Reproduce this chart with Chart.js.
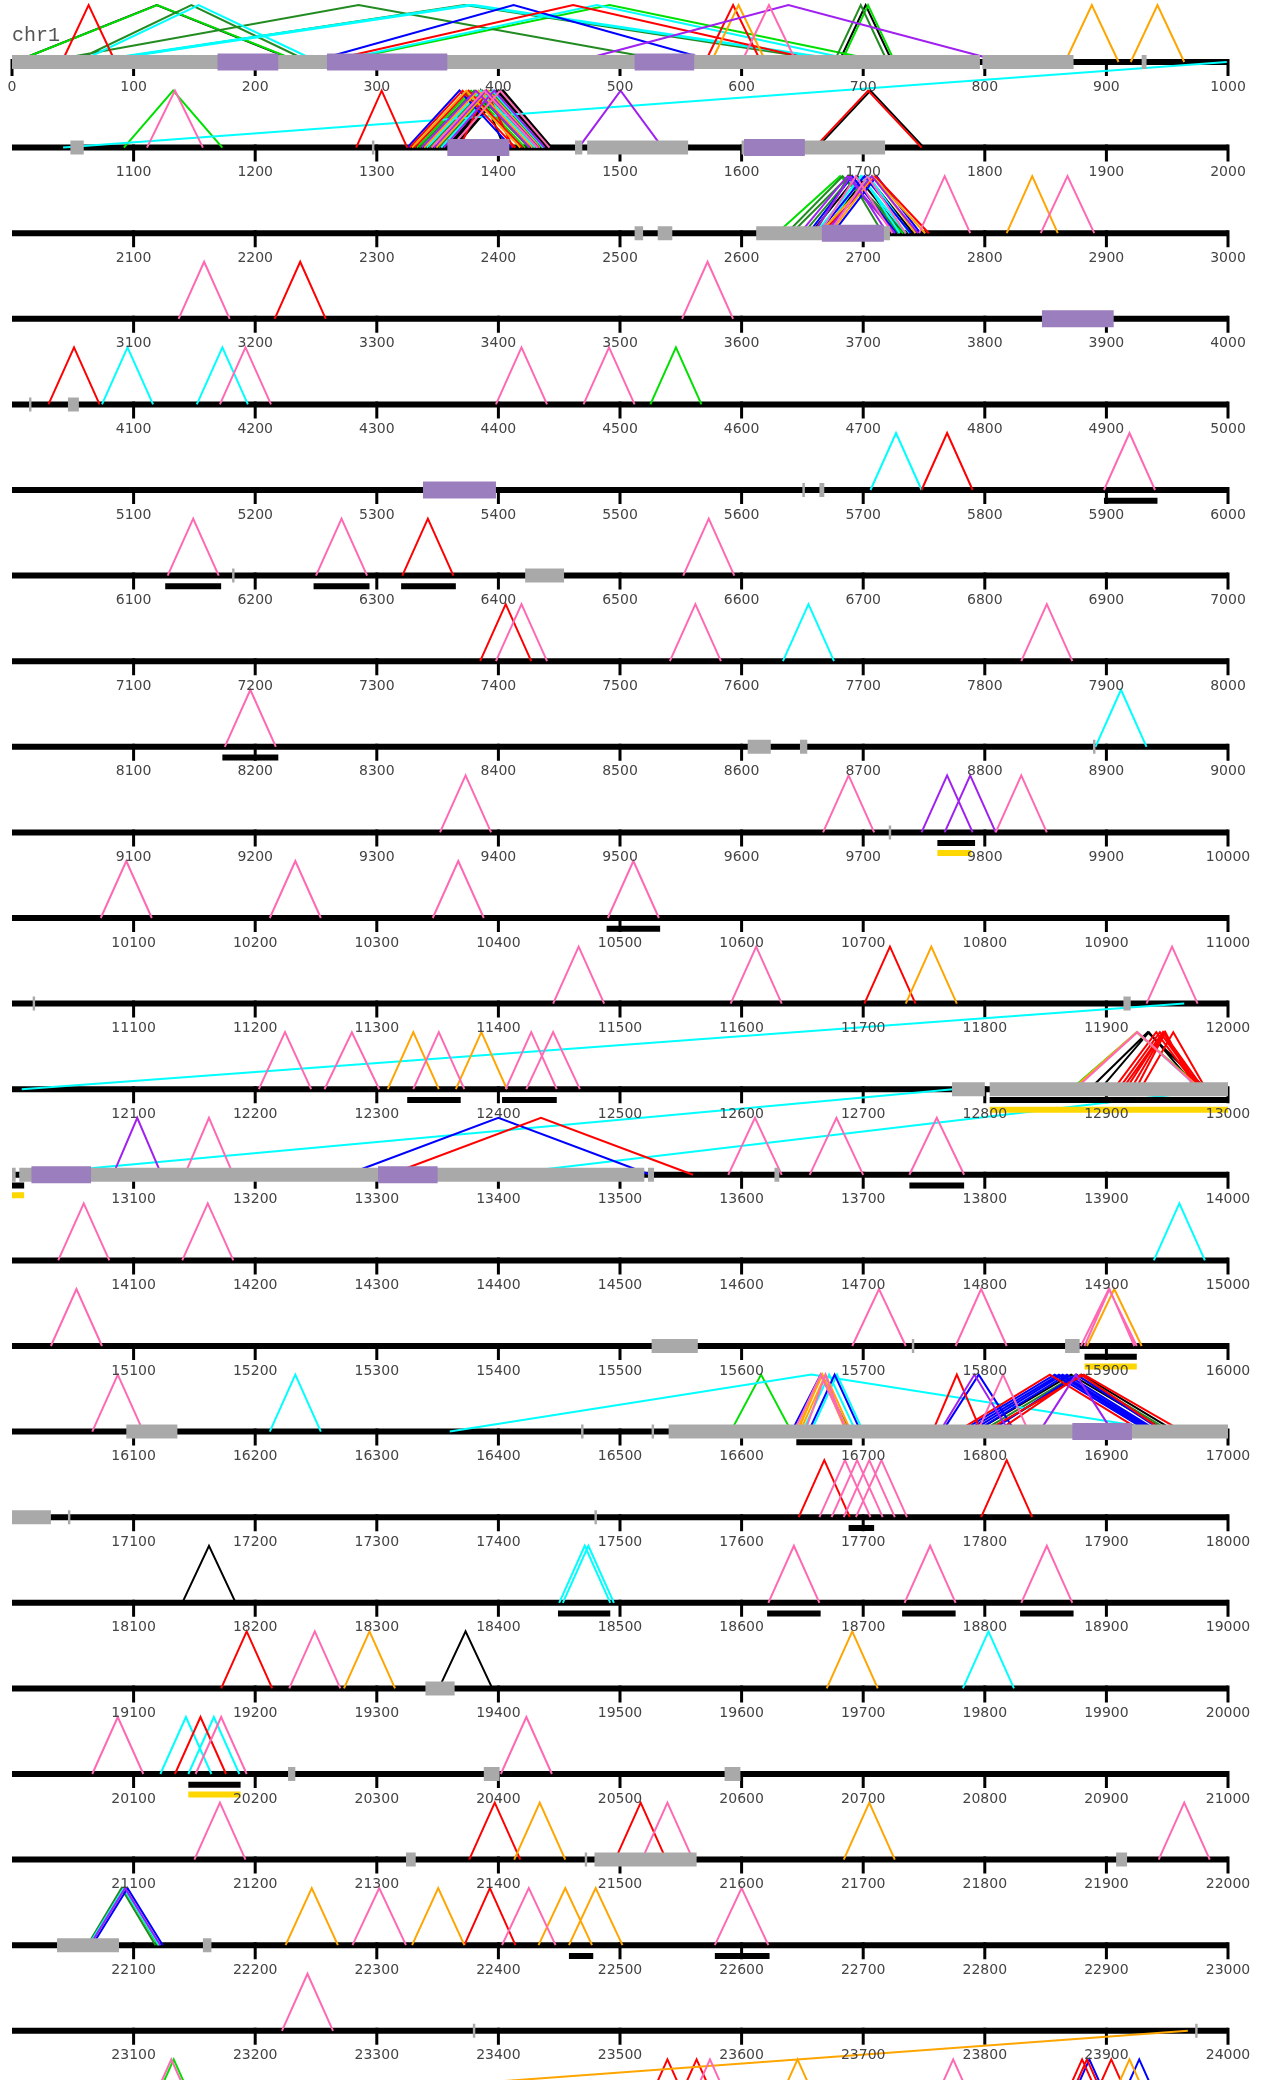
<!DOCTYPE html>
<html>
<head>
<meta charset="utf-8">
<title>chr1</title>
<script src="https://cdn.jsdelivr.net/npm/chart.js@4.4.0/dist/chart.umd.min.js"></script>
<style>
    html, body { margin: 0; padding: 0; background: #fff; }
    #chrChart { display: block; }
</style>
</head>
<body>
<canvas id="chrChart" width="1265" height="2080"></canvas>
<script>
// ============================================================================
// DATA (positions on chr1, one row = 1000)
// ============================================================================

const chromName = 'chr1';
const rowStarts = [0, 1000, 2000, 3000, 4000, 5000, 6000, 7000, 8000, 9000, 10000, 11000,
    12000, 13000, 14000, 15000, 16000, 17000, 18000, 19000, 20000, 21000, 22000, 23000];
const tickOffsets = [0, 100, 200, 300, 400, 500, 600, 700, 800, 900, 1000];

const redArcs = [
    [41, 85], [570, 616], [255, 668],
    [1283, 1325], [1327, 1414], [1331, 1420], [1368, 1412], [1660, 1748],
    [2666, 2754], [3216, 3258], [4030, 4072], [5748, 5790], [6321, 6363], [7385, 7427],
    [11701, 11743],
    [12906, 12976], [12910, 12978], [12913, 12980], [12916, 12977], [12920, 12975], [12924, 12973], [12928, 12982],
    [13310, 13560],
    [16757, 16797], [16777, 16930], [16800, 16963], [16810, 16948],
    [17647, 17689], [17797, 17839], [19172, 19214], [20134, 20176],
    [21376, 21418], [21496, 21538], [22372, 22414],
    [24518, 24560], [24542, 24584], [24859, 24901], [24863, 24905], [24883, 24925]
];
const orangeArcs = [
    [575, 620], [866, 910], [920, 964],
    [1329, 1418], [1339, 1428], [1349, 1434],
    [2664, 2751], [2673, 2743], [2818, 2860],
    [11735, 11777], [12309, 12351], [12365, 12407], [12872, 12978],
    [15884, 15929], [16645, 16688], [16648, 16690], [16646, 16686],
    [19273, 19315], [19670, 19712], [21413, 21455], [21684, 21726],
    [22225, 22268], [22329, 22372], [22433, 22477], [22458, 22502],
    [23967, 24009], [24625, 24667], [24898, 24940]
];
const pinkArcs = [
    [600, 645],
    [1111, 1157], [1345, 1432], [1361, 1442],
    [2664, 2724], [2672, 2735], [2746, 2788], [2846, 2890],
    [3137, 3179], [3551, 3593],
    [4171, 4213], [4398, 4440], [4470, 4512],
    [5898, 5940], [6128, 6170], [6250, 6292], [6552, 6594],
    [7398, 7440], [7541, 7583], [7830, 7872], [8175, 8217],
    [9352, 9394], [9667, 9709], [9809, 9851],
    [10073, 10115], [10212, 10254], [10346, 10388], [10490, 10532],
    [11445, 11487], [11591, 11633], [11933, 11975],
    [12203, 12246], [12257, 12302], [12330, 12372], [12406, 12448], [12423, 12467], [12874, 12977],
    [13142, 13182], [13589, 13633], [13656, 13700], [13738, 13783],
    [14038, 14080], [14140, 14182],
    [15032, 15074], [15691, 15735], [15776, 15818], [15879, 15925], [15882, 15923],
    [16066, 16108], [16643, 16687], [16652, 16686], [16794, 16836],
    [17664, 17706], [17674, 17716], [17684, 17726], [17694, 17736],
    [18622, 18664], [18734, 18776], [18830, 18872],
    [19228, 19270], [20066, 20108], [20151, 20193], [20402, 20444],
    [21150, 21192], [21518, 21560], [21943, 21985],
    [22280, 22324], [22403, 22447], [22578, 22622], [23222, 23264],
    [24110, 24152], [24553, 24595], [24753, 24795]
];
const cyanArcs = [
    [55, 252], [60, 690], [66, 694], [262, 700],
    [999, 1042],
    [1341, 1430], [1353, 1437],
    [2661, 2735], [2668, 2730], [2671, 2738],
    [4074, 4116], [4152, 4194], [5706, 5748], [7634, 7676], [8891, 8933],
    [11964, 12008], [12873, 12977], [12774, 13006], [12993, 13400],
    [14939, 14981], [16212, 16254], [16360, 16955], [16650, 16694], [16657, 16700],
    [18450, 18492], [18453, 18495], [19782, 19824], [20122, 20164], [20145, 20187],
    [22063, 22121]
];
const greenArcs = [
    [2, 237], [265, 718], [682, 726],
    [1092, 1173], [1333, 1422], [2629, 2733], [4525, 4567],
    [12871, 12979], [16591, 16641], [22064, 22120], [24112, 24154]
];
const darkGreenArcs = [
    [25, 545], [64, 680], [50, 245], [676, 720],
    [1335, 1425], [1343, 1431], [1351, 1436],
    [2637, 2729], [2641, 2735], [2651, 2730], [2660, 2716],
    [16797, 16953], [22062, 22118]
];
const blueArcs = [
    [245, 580], [1325, 1411],
    [2655, 2727], [2663, 2739], [2675, 2747],
    [13275, 13525],
    [16641, 16689], [16655, 16698], [16765, 16825], [16780, 16935], [16784, 16938],
    [16788, 16940], [16792, 16943], [16804, 16947],
    [22066, 22124], [24865, 24907], [24906, 24948]
];
const purpleArcs = [
    [462, 815],
    [1466, 1535], [1337, 1426], [1347, 1433], [1355, 1438],
    [2648, 2726], [2659, 2720], [2669, 2745],
    [9748, 9790], [9767, 9809], [13083, 13123],
    [16763, 16820], [16845, 16905], [22064, 22122]
];
const blackArcs = [
    [2, 236], [680, 724],
    [1357, 1440], [1359, 1441], [1363, 1443], [1364, 1444], [1366, 1405], [1662, 1750],
    [2657, 2733], [2666, 2741],
    [12886, 12982], [12895, 12975],
    [16792, 16950], [16802, 16957],
    [18140, 18184], [19351, 19395]
];

const grayBoxes = [
    [0, 796], [798, 873], [929, 933],
    [1048, 1059], [1296, 1298], [1463, 1469], [1473, 1556], [1600, 1718],
    [2512, 2519], [2531, 2543], [2612, 2722],
    [4014, 4016], [4046, 4055], [5650, 5652], [5664, 5668], [6181, 6183], [6422, 6454],
    [8605, 8624], [8648, 8654], [8889, 8891], [9721, 9723],
    [11017, 11019], [11914, 11920], [12773, 12800], [12804, 13000],
    [13000, 13003], [13006, 13520], [13523, 13528], [13627, 13631],
    [15526, 15564], [15740, 15742], [15866, 15878],
    [16094, 16136], [16468, 16470], [16526, 16528], [16540, 17000],
    [17000, 17032], [17046, 17048], [17479, 17481], [19340, 19364],
    [20227, 20233], [20388, 20401], [20586, 20599],
    [21324, 21332], [21471, 21473], [21479, 21563], [21908, 21917],
    [22037, 22088], [22157, 22164], [23379, 23381], [23973, 23975]
];
const purpleBoxes = [
    [169, 219], [259, 358], [512, 561], [1358, 1409], [1602, 1652], [2666, 2717],
    [3847, 3906], [5338, 5398], [13016, 13065], [13301, 13350], [16872, 16921]
];
const blackBars = [
    [5898, 5942], [6126, 6172], [6248, 6294], [6320, 6365], [8173, 8219], [9761, 9792],
    [10489, 10533], [12325, 12369], [12403, 12448], [12804, 13000], [13000, 13010],
    [13738, 13783], [15882, 15925], [16645, 16691], [17688, 17709],
    [18449, 18492], [18621, 18665], [18732, 18776], [18829, 18873],
    [20145, 20188], [22458, 22478], [22578, 22623]
];
const yellowBars = [
    [9761, 9789], [12804, 13000], [13000, 13010], [15882, 15925], [20145, 20188]
];

// ============================================================================
// LAYOUT
// ============================================================================

const ROW_SIZE = 1000;
const FIRST_BASE = 62;
const ROW_GAP = 85.6;
const ARC_HEIGHT = 57;

function baseY(row) {
    return FIRST_BASE + row * ROW_GAP;
}

function rowOf(pos, isEnd) {
    return isEnd ? Math.ceil(pos / ROW_SIZE) - 1 : Math.floor(pos / ROW_SIZE);
}

const GAP = { x: null, y: null };

function arcPoints(list) {
    const pts = [];
    list.forEach(([s, e]) => {
        const rs = rowOf(s, false);
        const re = rowOf(e, true);
        const xs = s - rs * ROW_SIZE;
        const xe = e - re * ROW_SIZE;
        if (rs === re) {
            const b = baseY(rs);
            pts.push({ x: xs, y: b }, { x: (xs + xe) / 2, y: b - ARC_HEIGHT }, { x: xe, y: b });
        } else {
            // link wrapping onto the next row: straight line
            pts.push({ x: xs, y: baseY(rs) }, { x: xe, y: baseY(re) });
        }
        pts.push(GAP);
    });
    return pts;
}

function spanPoints(list, dy) {
    const pts = [];
    list.forEach(([s, e]) => {
        const r = rowOf(s, false);
        const y = baseY(r) + dy;
        pts.push({ x: s - r * ROW_SIZE, y: y }, { x: e - r * ROW_SIZE, y: y }, GAP);
    });
    return pts;
}

function axisPoints() {
    const pts = [];
    rowStarts.forEach((start, r) => {
        pts.push({ x: 0, y: baseY(r) }, { x: ROW_SIZE, y: baseY(r) }, GAP);
    });
    return pts;
}

function tickPoints() {
    const pts = [];
    rowStarts.forEach((start, r) => {
        tickOffsets.forEach(off => {
            if (off === 0 && r > 0) return;
            pts.push({ x: off, y: baseY(r) - 3 }, { x: off, y: baseY(r) + 14 }, GAP);
        });
    });
    return pts;
}

function lineSet(data, color, width, order) {
    return {
        data: data,
        showLine: true,
        borderColor: color,
        backgroundColor: color,
        borderWidth: width,
        pointRadius: 0,
        pointHoverRadius: 0,
        tension: 0,
        spanGaps: false,
        borderCapStyle: 'butt',
        borderJoinStyle: 'miter',
        clip: false,
        order: order
    };
}

// ============================================================================
// TEXT PLUGIN (chromosome name + tick labels)
// ============================================================================

const labelPlugin = {
    id: 'rowLabels',
    beforeDatasetsDraw(chart) {
        const { ctx, scales } = chart;
        ctx.save();
        ctx.font = '20px "Liberation Mono", "DejaVu Sans Mono", monospace';
        ctx.fillStyle = '#555';
        ctx.textAlign = 'left';
        ctx.textBaseline = 'middle';
        ctx.fillText(chromName, scales.x.getPixelForValue(0), scales.y.getPixelForValue(36));
        ctx.restore();
    },
    afterDatasetsDraw(chart) {
        const { ctx, scales } = chart;
        ctx.save();
        ctx.font = '14px "DejaVu Sans", sans-serif';
        ctx.fillStyle = '#444';
        ctx.textAlign = 'center';
        ctx.textBaseline = 'middle';
        rowStarts.forEach((start, r) => {
            tickOffsets.forEach(off => {
                if (off === 0 && r > 0) return;
                ctx.fillText(String(start + off), scales.x.getPixelForValue(off),
                    scales.y.getPixelForValue(baseY(r) + 25));
            });
        });
        ctx.restore();
    }
};

// ============================================================================
// CHART
// ============================================================================

const datasets = [
    lineSet(axisPoints(), '#000', 6, 20),
    lineSet(tickPoints(), '#000', 3, 19),
    lineSet(arcPoints(cyanArcs), '#00ffff', 2, 9),
    lineSet(arcPoints(darkGreenArcs), '#228b22', 2, 10),
    lineSet(arcPoints(greenArcs), '#00e000', 2, 11),
    lineSet(arcPoints(blueArcs), '#0000ff', 2, 8),
    lineSet(arcPoints(redArcs), '#ff0000', 2, 7),
    lineSet(arcPoints(orangeArcs), '#ffa500', 2, 6),
    lineSet(arcPoints(purpleArcs), '#a020f0', 2, 5),
    lineSet(arcPoints(pinkArcs), '#ff69b4', 2, 4),
    lineSet(arcPoints(blackArcs), '#000000', 2, 12),
    lineSet(spanPoints(grayBoxes, 0), '#a9a9a9', 14, 3),
    lineSet(spanPoints(purpleBoxes, 0), '#9b7ebd', 17, 2),
    lineSet(spanPoints(blackBars, 10.7), '#000', 6, 1),
    lineSet(spanPoints(yellowBars, 20.5), '#ffd700', 6, 1)
];

new Chart(document.getElementById('chrChart'), {
    type: 'scatter',
    data: { datasets: datasets },
    options: {
        responsive: false,
        animation: false,
        events: [],
        layout: { padding: { left: 12, right: 37, top: 0, bottom: 0 } },
        plugins: { legend: { display: false }, tooltip: { enabled: false } },
        scales: {
            x: { type: 'linear', min: 0, max: ROW_SIZE, display: false },
            y: { type: 'linear', min: 0, max: 2080, reverse: true, display: false }
        }
    },
    plugins: [labelPlugin]
});
</script>
</body>
</html>
